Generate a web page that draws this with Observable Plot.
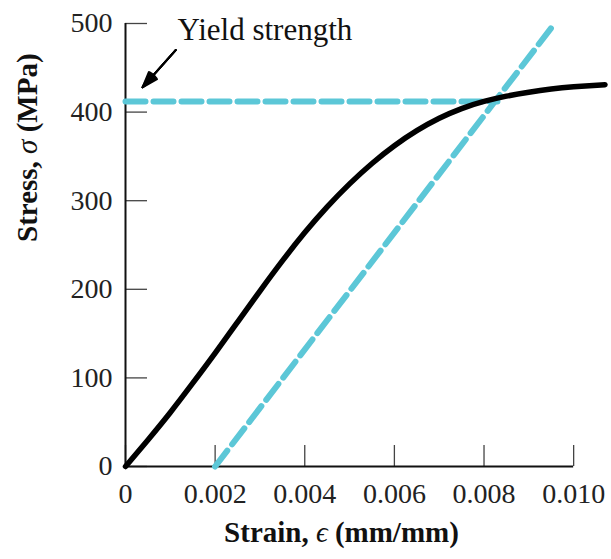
<!DOCTYPE html>
<html><head><meta charset="utf-8">
<script src="https://cdn.jsdelivr.net/npm/d3@7"></script>
<script src="https://cdn.jsdelivr.net/npm/@observablehq/plot@0.6"></script>
<style>body{margin:0;background:#fff} #chart svg{display:block}</style>
</head><body><div id="chart"></div>
<script>
// Stress–strain curve
const strain = [0, 0.0005, 0.001, 0.0015, 0.002, 0.0025, 0.003, 0.0035, 0.004, 0.0045, 0.005, 0.0055, 0.006, 0.0065, 0.007, 0.0075, 0.008, 0.0085, 0.009, 0.0095, 0.010, 0.0107];
const stress = [0, 30, 61, 94, 128, 163, 198, 232, 264, 293, 319, 342, 362, 379, 393, 404, 412, 418, 422.5, 426, 428.5, 431];

// 0.2% offset line and yield strength line
const offsetStrain = [0.002, 0.0095];
const offsetStress = [0, 495];
const yieldStrain = [0, 0.0083];
const yieldStress = [412, 412];

// Axis ticks
const xTicks = [0, 0.002, 0.004, 0.006, 0.008, 0.010];
const xTickLabels = ["0", "0.002", "0.004", "0.006", "0.008", "0.010"];
const yTicks = [0, 100, 200, 300, 400, 500];
const yTickLabels = ["0", "100", "200", "300", "400", "500"];
const xDomain = [0, 0.0108];
const yDomain = [0, 500];

// Texts
const xLabel = "Strain, ϵ (mm/mm)";
const yLabel = "Stress, σ (MPa)";
const annotation = "Yield strength";
const annotationAt = [0.00116, 481];
const arrowFrom = [0.00112, 470];
const arrowTo = [0.00038, 428];

const curve = strain.map((s, i) => ({s, v: stress[i]}));
const offset = offsetStrain.map((s, i) => ({s, v: offsetStress[i]}));
const yieldLine = yieldStrain.map((s, i) => ({s, v: yieldStress[i]}));
const cyan = "#5cc7d7";

const chart = Plot.plot({
  width: 611, height: 559,
  marginLeft: 125, marginRight: 2, marginTop: 23, marginBottom: 93,
  style: {fontFamily: "'Liberation Serif', 'Times New Roman', serif", color: "#222", background: "#fff"},
  x: {domain: xDomain},
  y: {domain: yDomain},
  marks: [
    Plot.axisX(xTicks, {tickSize: -21, tickPadding: 38, tickFormat: d => xTickLabels[xTicks.indexOf(d)], fontSize: 28, stroke: "#444", strokeWidth: 1.3, label: null}),
    Plot.axisY(yTicks, {tickSize: -22, tickPadding: 35, tickFormat: d => yTickLabels[yTicks.indexOf(d)], fontSize: 28, stroke: "#444", strokeWidth: 1.3, label: null}),
    Plot.ruleY([0], {x1: xTicks[0], x2: xTicks[xTicks.length - 1], stroke: "#111", strokeWidth: 2}),
    Plot.ruleX([0], {y1: yTicks[0], y2: yTicks[yTicks.length - 1], stroke: "#111", strokeWidth: 2}),
    Plot.line(yieldLine, {x: "s", y: "v", stroke: cyan, strokeWidth: 6, strokeDasharray: "20,8"}),
    Plot.line(offset, {x: "s", y: "v", stroke: cyan, strokeWidth: 6, strokeDasharray: "20,8"}),
    Plot.line(curve, {x: "s", y: "v", stroke: "#000", strokeWidth: 5.5, curve: "natural"}),
    Plot.text([annotation], {x: annotationAt[0], y: annotationAt[1], text: d => d, textAnchor: "start", lineAnchor: "bottom", fontSize: 31, fill: "#111"}),
    ...[8, 18, 28, 38].map(a => Plot.arrow([0], {x1: arrowFrom[0], y1: arrowFrom[1], x2: arrowTo[0], y2: arrowTo[1], stroke: "#000", strokeWidth: 2, headAngle: a, headLength: 17})),
    Plot.text([xLabel], {frameAnchor: "bottom", dx: -26, dy: 75, text: d => d, fontSize: 29, fontWeight: "bold", fill: "#111"}),
    Plot.text([yLabel], {frameAnchor: "left", dx: -98, dy: -3, rotate: -90, text: d => d, fontSize: 29, fontWeight: "bold", fill: "#111"})
  ]
});

// italicize the Greek symbols inside the axis labels
chart.querySelectorAll("text").forEach(t => {
  const s = t.textContent;
  const m = s.match(/[ϵσ]/);
  if (!m || t.children.length) return;
  const ns = "http://www.w3.org/2000/svg";
  t.textContent = "";
  const parts = [s.slice(0, m.index), s[m.index], s.slice(m.index + 1)];
  parts.forEach((p, k) => {
    const ts = document.createElementNS(ns, "tspan");
    ts.textContent = p;
    if (k === 1) { ts.setAttribute("font-style", "italic"); ts.setAttribute("font-weight", "normal"); }
    t.appendChild(ts);
  });
});
document.getElementById("chart").appendChild(chart);
</script>
</body></html>
